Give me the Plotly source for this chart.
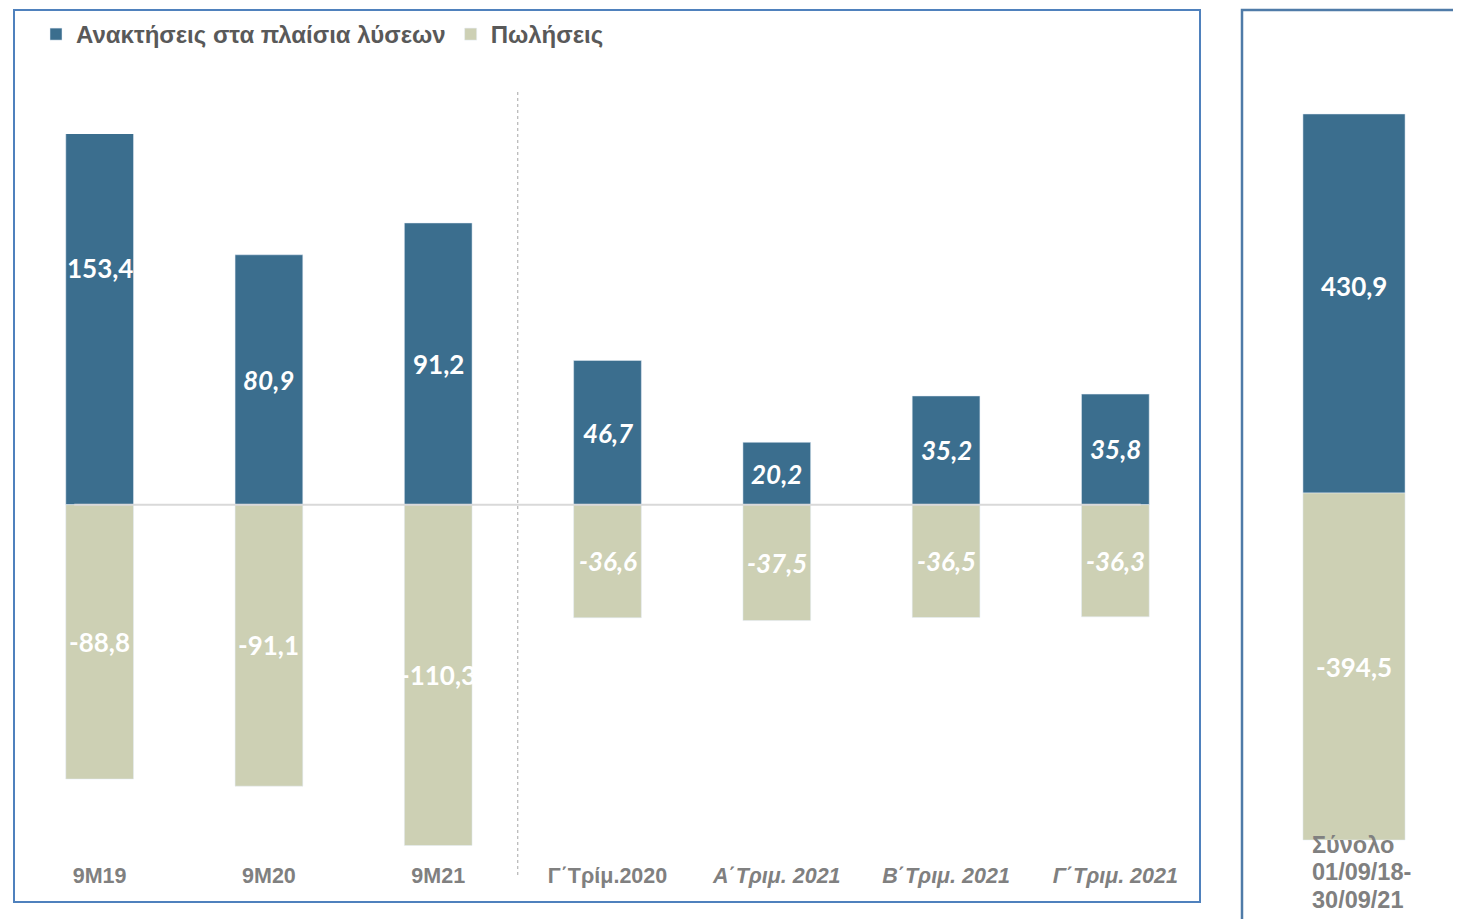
import plotly.graph_objects as go

# page has an 8px body margin; figure is sized to fit the 1461x919 viewport
OFF = 8
W, H = 1461 - OFF, 919 - OFF

categories = ["9M19", "9M20", "9M21", "Γ΄Τρίμ.2020", "Α΄Τριμ. 2021", "Β΄Τριμ. 2021", "Γ΄Τριμ. 2021"]
tick_italic = [False, False, False, False, True, True, True]
acquisitions = [153.4, 80.9, 91.2, 46.7, 20.2, 35.2, 35.8]
sales = [-88.8, -91.1, -110.3, -36.6, -37.5, -36.5, -36.3]
acq_italic = [False, True, False, True, True, True, True]
sales_italic = [False, False, False, True, True, True, True]

total_category = ["Σύνολο 01/09/18-30/09/21"]
total_label_lines = ["Σύνολο", "01/09/18-", "30/09/21"]
total_acquisitions = [430.9]
total_sales = [-394.5]

series_names = ["Ανακτήσεις στα πλαίσια λύσεων", "Πωλήσεις"]
BLUE = "#3B6E8E"
OLIVE = "#CDD0B4"


def px_x(p):
    return (p - OFF) / W


def px_y(p):
    return 1 - (p - OFF) / H


def fmt(v):
    return f"{v:.1f}".replace(".", ",")


fig = go.Figure()
fig.add_trace(go.Bar(x=categories, y=acquisitions, name=series_names[0], marker_color=BLUE,
                     xaxis="x", yaxis="y"))
fig.add_trace(go.Bar(x=categories, y=sales, name=series_names[1], marker_color=OLIVE,
                     xaxis="x", yaxis="y"))
fig.add_trace(go.Bar(x=total_category, y=total_acquisitions, marker_color=BLUE, width=0.69,
                     showlegend=False, xaxis="x2", yaxis="y2"))
fig.add_trace(go.Bar(x=total_category, y=total_sales, marker_color=OLIVE, width=0.69,
                     showlegend=False, xaxis="x2", yaxis="y2"))

annotations = []
label_font = dict(family="Lato, Open Sans, sans-serif", size=26, color="white", weight="bold")
for c, v, it in zip(categories, acquisitions, acq_italic):
    annotations.append(dict(x=c, y=v / 2, xref="x", yref="y", text=fmt(v), showarrow=False,
                            font=dict(label_font, style="italic" if it else "normal")))
for c, v, it in zip(categories, sales, sales_italic):
    annotations.append(dict(x=c, y=v / 2, xref="x", yref="y", text=fmt(v), showarrow=False,
                            font=dict(label_font, style="italic" if it else "normal")))
annotations.append(dict(x=0, y=total_acquisitions[0] / 2, xref="x2", yref="y2", yshift=18,
                        text=fmt(total_acquisitions[0]), showarrow=False, font=label_font))
annotations.append(dict(x=0, y=total_sales[0] / 2, xref="x2", yref="y2",
                        text=fmt(total_sales[0]), showarrow=False, font=label_font))
for line, py in zip(total_label_lines, [845, 872, 900]):
    annotations.append(dict(x=px_x(1310), y=px_y(py), xref="paper", yref="paper", xanchor="left",
                            yanchor="middle", align="left", showarrow=False, text=line,
                            font=dict(family="Liberation Sans, Arial, sans-serif", size=23.5,
                                      color="#808080", weight="bold")))

ticktext = [f"<i>{c}</i>" if it else c for c, it in zip(categories, tick_italic)]

shapes = [
    # main frame
    dict(type="rect", xref="paper", yref="paper", x0=px_x(14), x1=px_x(1200),
         y0=px_y(902), y1=px_y(10), line=dict(color="#4F81BD", width=2)),
    # second frame
    dict(type="rect", xref="paper", yref="paper", x0=px_x(1242), x1=1.05,
         y0=-0.05, y1=px_y(10), line=dict(color="#4F7BA8", width=2.5)),
    # zero line
    dict(type="line", xref="x", yref="y", x0=-0.15, x1=6.15, y0=0, y1=0,
         line=dict(color="#D9D9D9", width=2), layer="above"),
    # dotted separator
    dict(type="line", xref="x", yref="paper", x0=2.47, x1=2.47, y0=px_y(875), y1=px_y(90),
         line=dict(color="#A6A6A6", width=1, dash="dot")),
]

fig.update_layout(
    width=W, height=H,
    margin=dict(l=0, r=0, t=0, b=0),
    paper_bgcolor="white", plot_bgcolor="white",
    barmode="relative", bargap=0.6,
    showlegend=True,
    legend=dict(orientation="h", x=px_x(36), y=px_y(12), xanchor="left", yanchor="top",
                font=dict(family="Liberation Sans, Arial, sans-serif", size=24,
                          color="#595959", weight="bold"),
                itemwidth=30, traceorder="normal", bgcolor="rgba(0,0,0,0)"),
    xaxis=dict(domain=[px_x(15), px_x(1200)], type="category", tickmode="array",
               tickvals=categories, ticktext=ticktext, showgrid=False, zeroline=False,
               showline=False, ticks="",
               tickfont=dict(family="Liberation Sans, Arial, sans-serif", size=21.5,
                             color="#808080", weight="bold")),
    yaxis=dict(domain=[px_y(860), px_y(134)], range=[-115, 120], showgrid=False,
               zeroline=False, showticklabels=False, showline=False),
    xaxis2=dict(domain=[px_x(1280), px_x(1428)], type="category", range=[-0.5, 0.5],
                showticklabels=False, showgrid=False, zeroline=False, showline=False,
                anchor="y2"),
    yaxis2=dict(domain=[px_y(860), px_y(100)], range=[-417.2, 446.8], showgrid=False,
                zeroline=False, showticklabels=False, showline=False, anchor="x2"),
    annotations=annotations,
    shapes=shapes,
)

fig.write_html("out.html")
